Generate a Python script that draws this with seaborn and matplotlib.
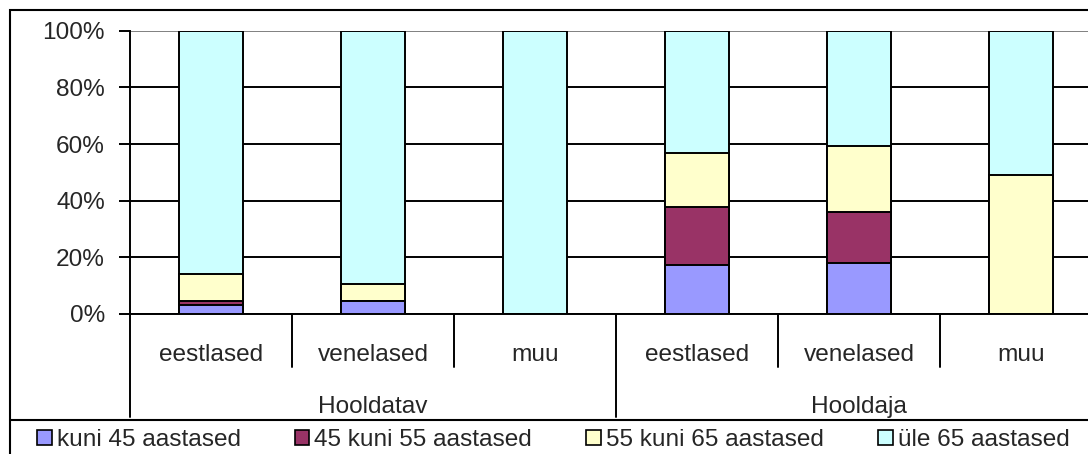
import numpy as np
import pandas as pd
import matplotlib
matplotlib.use("Agg")
import matplotlib.pyplot as plt
import matplotlib.transforms as mtransforms
from matplotlib.patches import Patch, Rectangle
from matplotlib.lines import Line2D
import seaborn as sns

# data (percent of each bar)
groups = ["Hooldatav", "Hooldaja"]
categories = ["eestlased", "venelased", "muu"]
series_names = ["kuni 45 aastased", "45 kuni 55 aastased", "55 kuni 65 aastased", "üle 65 aastased"]
kuni45 = [3.2, 4.6, 0.0, 17.3, 18.0, 0.0]
k45_55 = [1.5, 0.0, 0.0, 20.6, 17.9, 0.0]
k55_65 = [9.3, 5.9, 0.0, 19.0, 23.4, 49.2]
yle65 = [86.0, 89.5, 100.0, 43.1, 40.7, 50.8]
yticks = [0, 20, 40, 60, 80, 100]

colors = ["#9999FF", "#993366", "#FFFFCC", "#CCFFFF"]
FS = 17.6

sns.set_style("white")
plt.rcParams["font.family"] = ["Liberation Sans", "DejaVu Sans"]

bar_ids = [f"{g} {c}" for g in groups for c in categories]
vals = np.array([kuni45, k45_55, k55_65, yle65])
cum = np.cumsum(vals, axis=0)

fig = plt.figure(figsize=(10.88, 4.54), dpi=100)
W, H = 1088, 454
ax = fig.add_axes([130 / W, (H - 314) / H, 972 / W, (314 - 30.7) / H])

# stacked bars: draw cumulative layers from the top down
for i in range(3, -1, -1):
    df = pd.DataFrame({"id": bar_ids, "v": cum[i]})
    sns.barplot(data=df, x="id", y="v", order=bar_ids, color=colors[i],
                saturation=1, width=0.39, edgecolor="black", linewidth=1.4,
                errorbar=None, ax=ax, zorder=3)

ax.set_xlim(-0.5, 5.5)
ax.set_ylim(0, 100)
ax.set_yticks(yticks)
ax.set_yticklabels([f"{t}%" for t in yticks], fontsize=FS)
ax.tick_params(axis="y", direction="out", length=8, width=1.4, color="black", pad=10, left=True)
ax.set_xticks([])
ax.set_xlabel("")
ax.set_ylabel("")
ax.set_axisbelow(True)
ax.yaxis.grid(True, color="black", linewidth=1.4)
ax.yaxis.get_gridlines()[-1].set_color("#808080")
for s in ["top", "right"]:
    ax.spines[s].set_visible(False)
for s in ["left", "bottom"]:
    ax.spines[s].set_color("black")
    ax.spines[s].set_linewidth(1.4)

# multi-level category axis
trans = mtransforms.blended_transform_factory(ax.transData, fig.transFigure)
y0 = (H - 314) / H
short_y = (H - 367) / H
long_y = (H - 417) / H
for k in range(7):
    xs = k - 0.5
    yb = long_y if k in (0, 3, 6) else short_y
    fig.add_artist(Line2D([xs, xs], [y0, yb], transform=trans, color="black", lw=1.4))
for k, c in enumerate(categories * 2):
    fig.text(k, (H - 355) / H, c, transform=trans, ha="center", va="center", fontsize=FS)
for k, g in enumerate(groups):
    fig.text(1 + 3 * k, (H - 407) / H, g, transform=trans, ha="center", va="center", fontsize=FS)

# outer border and legend box
fig.add_artist(Rectangle((10 / W, -0.2), 1.2, 1 - 10 / H + 0.2, transform=fig.transFigure,
                         fill=False, edgecolor="black", lw=1.5))
fig.add_artist(Line2D([10 / W, 1.1], [(H - 420) / H] * 2, transform=fig.transFigure,
                      color="black", lw=1.5))

handles = [Patch(facecolor=c, edgecolor="black", linewidth=1.2) for c in colors]
fig.legend(handles, series_names, loc="center left", bbox_to_anchor=(37 / W, (H - 440) / H),
           ncol=4, frameon=False, fontsize=FS, handlelength=0.6, handleheight=0.6,
           handletextpad=0.2, columnspacing=2.22, borderpad=0, borderaxespad=0)

fig.savefig("out.png", dpi=100)
